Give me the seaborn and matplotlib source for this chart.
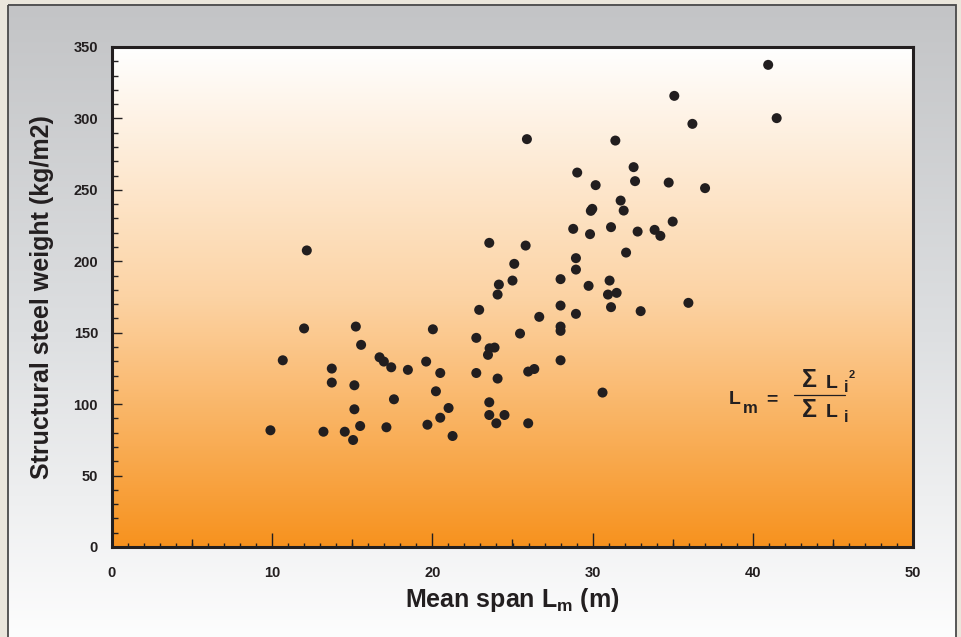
import numpy as np
import pandas as pd
import matplotlib
matplotlib.use("Agg")
import matplotlib.pyplot as plt
import seaborn as sns
from matplotlib.patches import Rectangle
from matplotlib.colors import LinearSegmentedColormap
from matplotlib.ticker import MultipleLocator, FixedLocator
from matplotlib.lines import Line2D

# ---------------- data ----------------
span_m = [
    12.16, 11.99, 15.22, 15.55, 20.03, 10.66, 13.72, 13.72, 16.70, 16.97,
    17.43, 18.47, 19.61, 20.49, 15.13, 20.22, 17.60, 15.13, 21.01, 20.49,
    9.89, 13.20, 14.53, 15.49, 15.05, 17.13, 19.69, 21.26,
    22.74, 22.74, 22.92, 23.47, 23.57, 23.88, 23.55, 23.55, 23.55, 24.50,
    23.99, 24.07, 24.15, 24.07, 25.00, 25.11, 25.47, 25.82, 25.90, 25.98,
    26.36, 25.98, 26.67, 28.00, 28.00, 28.00, 28.00, 28.00, 28.79, 28.96,
    28.96, 28.96, 29.04, 29.75, 29.84, 29.89, 29.98, 30.19, 30.62, 30.96,
    31.06, 31.15, 31.15, 31.42, 31.50, 31.75, 31.94, 32.09, 32.56, 32.65,
    32.81, 33.00, 33.87, 34.23, 34.75, 35.00, 35.10, 35.98, 36.23, 37.02,
    40.96, 41.49,
]
steel_weight = [
    207.6, 153.0, 154.3, 141.5, 152.4, 130.7, 124.9, 115.1, 132.8, 129.8,
    125.8, 124.0, 129.8, 121.8, 113.2, 109.0, 103.4, 96.4, 97.3, 90.5,
    81.7, 80.7, 80.7, 84.7, 74.9, 83.8, 85.6, 77.7,
    146.4, 121.8, 166.0, 134.5, 139.1, 139.6, 212.9, 101.3, 92.4, 92.4,
    86.6, 176.7, 183.7, 117.9, 186.5, 198.2, 149.4, 211.0, 285.5, 122.8,
    124.6, 86.6, 161.1, 187.5, 169.0, 154.3, 151.3, 130.7, 222.7, 202.2,
    194.2, 163.2, 262.1, 182.8, 219.0, 235.3, 236.7, 253.3, 108.1, 176.7,
    186.5, 223.9, 167.9, 284.5, 177.9, 242.5, 235.5, 206.1, 265.9, 256.1,
    220.8, 165.1, 222.0, 217.8, 255.1, 227.8, 315.8, 170.9, 296.2, 251.2,
    337.5, 300.2,
]
x_ticks = [0, 10, 20, 30, 40, 50]
y_ticks = [0, 50, 100, 150, 200, 250, 300, 350]
x_label = "Mean span L$_{\\mathbf{m}}$ (m)"
y_label = "Structural steel weight (kg/m2)"

df = pd.DataFrame({"span": span_m, "weight": steel_weight})

# ---------------- style ----------------
sns.set_theme(style="white")
plt.rcParams["font.family"] = ["Liberation Sans", "DejaVu Sans"]
plt.rcParams["mathtext.fontset"] = "custom"
plt.rcParams["mathtext.bf"] = "Liberation Sans:bold"
plt.rcParams["mathtext.rm"] = "Liberation Sans"
plt.rcParams["mathtext.it"] = "Liberation Sans:italic"

W, H = 962, 637
fig = plt.figure(figsize=(W / 100, H / 100), dpi=100)
fig.patch.set_facecolor("#EAE6DC")

# background panel with grey->white gradient
bg = fig.add_axes([0, 0, 1, 1], zorder=-10)
bg.axis("off")
grey_cmap = LinearSegmentedColormap.from_list("g", ["#C3C4C6", "#DDDFE1", "#FFFFFF"])
grad = np.linspace(0, 1, 256).reshape(-1, 1)
bg.imshow(grad, cmap=grey_cmap, aspect="auto", extent=[8.5, 956, 660, 4.5], zorder=0)
bg.add_patch(Rectangle((8.5, 4.5), 956 - 8.5, 700, fill=False, edgecolor="#4A4A4A", lw=1.3, zorder=2))
bg.set_xlim(0, W)
bg.set_ylim(H, 0)

# main axes
left, right, top, bottom = 112, 913, 47, 547
ax = fig.add_axes([left / W, 1 - bottom / H, (right - left) / W, (bottom - top) / H])
ax.set_facecolor("none")

orange_cmap = LinearSegmentedColormap.from_list("o", ["#FFFFFF", "#FCD3A4", "#F7921E"])
ax.imshow(grad, cmap=orange_cmap, aspect="auto", extent=[0, 1, 0, 1],
          transform=ax.transAxes, zorder=0)

sns.scatterplot(data=df, x="span", y="weight", ax=ax, color="#221E1F", s=52,
                edgecolor="none", linewidth=0, zorder=3)

ax.set_xlim(0, 50)
ax.set_ylim(0, 350)
ax.set_xlabel(x_label, fontsize=18, fontweight="bold", color="#231F20", labelpad=4)
ax.set_ylabel(y_label, fontsize=18, fontweight="bold", color="#231F20", labelpad=14)

ax.xaxis.set_major_locator(FixedLocator(x_ticks))
ax.yaxis.set_major_locator(FixedLocator(y_ticks))
ax.xaxis.set_minor_locator(MultipleLocator(1))
ax.yaxis.set_minor_locator(MultipleLocator(10))
ax.tick_params(axis="both", which="both", direction="in", color="#231F20", width=1.0,
               bottom=True, left=True, top=False, right=False)
ax.tick_params(axis="x", which="major", length=10, pad=14, labelsize=10.5)
ax.tick_params(axis="x", which="minor", length=3)
ax.tick_params(axis="y", which="major", length=7, pad=10, labelsize=10.5)
ax.tick_params(axis="y", which="minor", length=4.5)
for lab in ax.get_xticklabels() + ax.get_yticklabels():
    lab.set_fontweight("bold")
    lab.set_color("#231F20")

# medium ticks at every 5 on x
sec = ax.secondary_xaxis("bottom")
sec.set_xticks([5, 15, 25, 35, 45])
sec.tick_params(direction="in", length=6, width=1.0, color="#231F20", labelbottom=False, bottom=True)
sec.spines["bottom"].set_visible(False)

for name, sp in ax.spines.items():
    sp.set_visible(True)
    sp.set_color("#231F20")
    sp.set_linewidth(2.2)
    sp.set_zorder(5)

# formula annotation
fc = "#231F20"
def t(x, y, s, size, va="baseline"):
    ax.text(x, y, s, transform=ax.transAxes, fontsize=size, fontweight="bold",
            color=fc, ha="center", va=va, zorder=6)

t(0.777, 0.286, "L", 14)
t(0.797, 0.268, "m", 12)
t(0.824, 0.294, "=", 14, va="center")
t(0.871, 0.320, "Σ", 18)
t(0.898, 0.318, "L", 14)
t(0.916, 0.310, "i", 12)
t(0.923, 0.338, "2", 8)
ax.add_line(Line2D([0.851, 0.915], [0.304, 0.304], transform=ax.transAxes, color=fc, lw=0.9, zorder=6))
t(0.871, 0.260, "Σ", 18)
t(0.898, 0.260, "L", 14)
t(0.916, 0.250, "i", 12)

fig.savefig("out.png", dpi=100)
